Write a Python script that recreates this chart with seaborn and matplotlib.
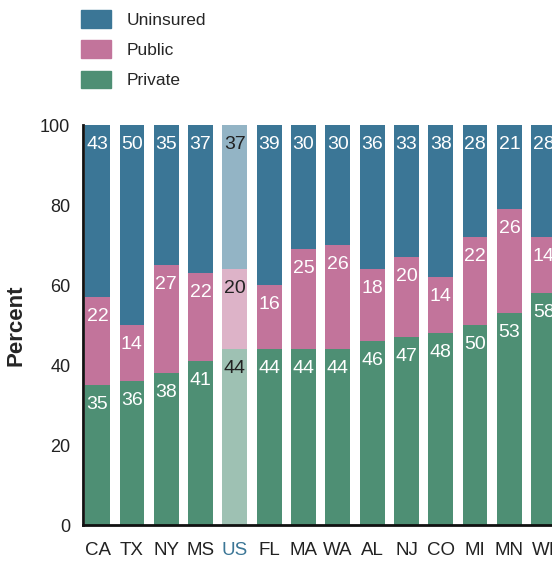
import pandas as pd
import numpy as np
import matplotlib.pyplot as plt
import matplotlib.colors as mcolors
from matplotlib.patches import Patch
import seaborn as sns

# coverage shares by state, percent
states = ['CA', 'TX', 'NY', 'MS', 'US', 'FL', 'MA', 'WA', 'AL', 'NJ', 'CO', 'MI', 'MN', 'WI']
private = [35, 36, 38, 41, 44, 44, 44, 44, 46, 47, 48, 50, 53, 58]
public = [22, 14, 27, 22, 20, 16, 25, 26, 18, 20, 14, 22, 26, 14]
uninsured = [43, 50, 35, 37, 37, 39, 30, 30, 36, 33, 38, 28, 21, 28]

col_unins = '#3b7696'
col_public = '#c2749b'
col_private = '#4e8f74'
highlight = 'US'

sns.set_style('white')
plt.rcParams['font.family'] = ['Liberation Sans', 'DejaVu Sans']

df = pd.DataFrame({'state': states, 'private': private,
                   'public': public, 'uninsured': uninsured})
df['priv_pub'] = df['private'] + df['public']
df['total'] = 100  # uninsured fills the rest of the bar

fig = plt.figure(figsize=(5.52, 5.64), dpi=100)
ax = fig.add_axes([0.150, 0.069, 0.85, 0.709])

layers = [('total', 'uninsured', col_unins),
          ('priv_pub', 'public', col_public),
          ('private', 'private', col_private)]

for top_col, val_col, c in layers:
    sns.barplot(data=df, x='state', y=top_col, color=c, width=0.72,
                saturation=1, ax=ax, order=states, linewidth=0)
    cont = ax.containers[-1]
    for bar, st, top, val in zip(cont, df['state'], df[top_col], df[val_col]):
        txt_col = 'white'
        if st == highlight:
            # washed-out bar for the national average
            rgb = np.array(mcolors.to_rgb(c))
            bar.set_facecolor(rgb * 0.55 + 0.45)
            txt_col = '#222222'
        ax.annotate(str(val), (bar.get_x() + bar.get_width() / 2, top),
                    xytext=(0, -8), textcoords='offset points',
                    ha='center', va='top', color=txt_col, fontsize=14)

ax.set_xlim(-0.43, 13.24)
ax.set_ylim(0, 100)
ax.set_yticks([0, 20, 40, 60, 80, 100])
ax.tick_params(axis='both', length=0, colors='#222222')
ax.tick_params(axis='y', pad=9, labelsize=13)
ax.tick_params(axis='x', pad=12, labelsize=13.5)
ax.set_xlabel('')
ax.set_ylabel('Percent', fontsize=16, fontweight='bold', labelpad=10)
for lbl in ax.get_xticklabels():
    if lbl.get_text() == highlight:
        lbl.set_color(col_unins)

sns.despine(ax=ax, top=True, right=True)
ax.spines['left'].set_linewidth(2)
ax.spines['bottom'].set_linewidth(2)
ax.spines['left'].set_color('#111111')
ax.spines['bottom'].set_color('#111111')

handles = [Patch(color=col_unins, label='Uninsured'),
           Patch(color=col_public, label='Public'),
           Patch(color=col_private, label='Private')]
fig.legend(handles=handles, loc='upper left', bbox_to_anchor=(81 / 552, 1 - 10 / 564),
           frameon=False, fontsize=12.5, handlelength=1.75, handleheight=1.2,
           labelspacing=0.72, handletextpad=0.85, borderpad=0, borderaxespad=0)

plt.savefig('out.png', dpi=100)
